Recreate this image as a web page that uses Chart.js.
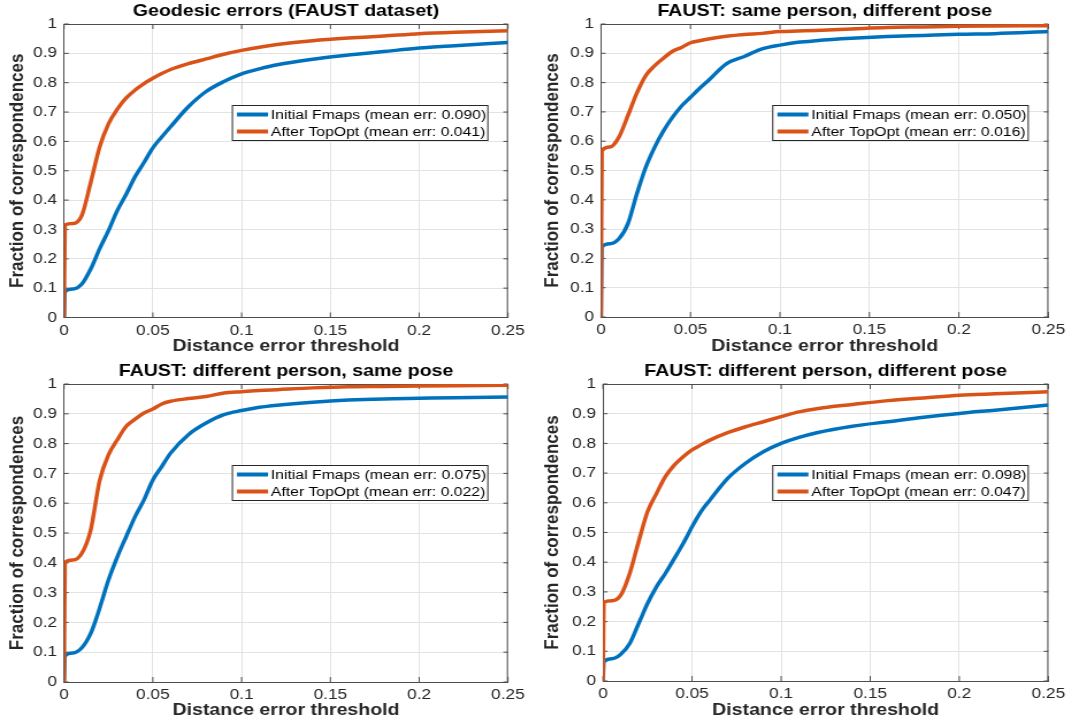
<!DOCTYPE html>
<html>
<head>
<meta charset="utf-8">
<script src="https://cdn.jsdelivr.net/npm/chart.js@4.4.0/dist/chart.umd.min.js"></script>
<style>
html, body { margin: 0; padding: 0; background: #fff; overflow: hidden; }
.panel { position: absolute; transform: scaleX(1.15); transform-origin: 0 0; }
</style>
</head>
<body>
<div class="panel" style="left:0px;top:0px"><canvas id="c0" width="465" height="360"></canvas></div>
<div class="panel" style="left:535px;top:0px"><canvas id="c1" width="465" height="360"></canvas></div>
<div class="panel" style="left:0px;top:360px"><canvas id="c2" width="465" height="362"></canvas></div>
<div class="panel" style="left:535px;top:360px"><canvas id="c3" width="465" height="362"></canvas></div>
<script>
// distance error thresholds (x), shared by all four panels
var thresholds = [0, 0.0005, 0.005, 0.01, 0.015, 0.02, 0.025, 0.03, 0.035, 0.04, 0.045, 0.05, 0.055,
	0.06, 0.07, 0.08, 0.09, 0.1, 0.11, 0.12, 0.14, 0.16, 0.18, 0.2, 0.22, 0.25];

// fraction of correspondences
var geoInitial = [0, 0.088, 0.097, 0.114, 0.165, 0.234, 0.296, 0.365, 0.42, 0.48, 0.528, 0.578, 0.615,
	0.65, 0.718, 0.77, 0.804, 0.83, 0.847, 0.861, 0.88, 0.894, 0.906, 0.918, 0.926, 0.937];
var geoTopOpt = [0, 0.315, 0.32, 0.348, 0.46, 0.58, 0.66, 0.71, 0.748, 0.775, 0.797, 0.815, 0.831,
	0.845, 0.865, 0.881, 0.897, 0.91, 0.921, 0.93, 0.943, 0.952, 0.959, 0.967, 0.972, 0.977];

var samePersonInitial = [0, 0.24, 0.25, 0.267, 0.318, 0.42, 0.511, 0.58, 0.636, 0.682, 0.72, 0.75, 0.78,
	0.807, 0.864, 0.889, 0.915, 0.928, 0.9375, 0.943, 0.951, 0.957, 0.961, 0.965, 0.967, 0.974];
var samePersonTopOpt = [0, 0.567, 0.58, 0.614, 0.687, 0.764, 0.824, 0.858, 0.884, 0.907, 0.92, 0.936, 0.943,
	0.949, 0.958, 0.964, 0.968, 0.974, 0.976, 0.978, 0.983, 0.988, 0.99, 0.992, 0.993, 0.994];

var samePoseInitial = [0, 0.088, 0.0975, 0.115, 0.163, 0.247, 0.342, 0.42, 0.488, 0.555, 0.611, 0.678, 0.723,
	0.768, 0.83, 0.869, 0.897, 0.911, 0.922, 0.929, 0.939, 0.946, 0.95, 0.952, 0.954, 0.956];
var samePoseTopOpt = [0, 0.40, 0.409, 0.432, 0.51, 0.675, 0.762, 0.813, 0.858, 0.882, 0.9025, 0.916, 0.933,
	0.942, 0.951, 0.958, 0.97, 0.974, 0.978, 0.981, 0.987, 0.991, 0.992, 0.993, 0.994, 0.9955];

var diffBothInitial = [0, 0.065, 0.075, 0.09, 0.126, 0.193, 0.261, 0.317, 0.362, 0.412, 0.463, 0.519, 0.57,
	0.609, 0.682, 0.733, 0.772, 0.8, 0.82, 0.836, 0.858, 0.873, 0.888, 0.901, 0.912, 0.929];
var diffBothTopOpt = [0, 0.265, 0.27, 0.289, 0.362, 0.469, 0.57, 0.631, 0.688, 0.727, 0.755, 0.778, 0.795,
	0.811, 0.836, 0.856, 0.873, 0.89, 0.906, 0.917, 0.931, 0.944, 0.953, 0.962, 0.967, 0.974];

var titles = ['Geodesic errors (FAUST dataset)', 'FAUST: same person, different pose',
	'FAUST: different person, same pose', 'FAUST: different person, different pose'];
var initialLabels = ['Initial Fmaps (mean err: 0.090)', 'Initial Fmaps (mean err: 0.050)',
	'Initial Fmaps (mean err: 0.075)', 'Initial Fmaps (mean err: 0.098)'];
var topOptLabels = ['After TopOpt (mean err: 0.041)', 'After TopOpt (mean err: 0.016)',
	'After TopOpt (mean err: 0.022)', 'After TopOpt (mean err: 0.047)'];
var initialSeries = [geoInitial, samePersonInitial, samePoseInitial, diffBothInitial];
var topOptSeries = [geoTopOpt, samePersonTopOpt, samePoseTopOpt, diffBothTopOpt];

var xTicks = [0, 0.05, 0.1, 0.15, 0.2, 0.25];
var yTicks = [0, 0.1, 0.2, 0.3, 0.4, 0.5, 0.6, 0.7, 0.8, 0.9, 1];

var BLUE = '#0072BD', ORANGE = '#D95319', AXIS = '#4d4d4d';
var FONT = '"Liberation Sans", Arial, Helvetica, sans-serif';
Chart.defaults.font.family = FONT;
Chart.defaults.color = '#262626';

// per panel: y axis width, right padding, x axis height, title padding below x label
var panelBox = [
	{ yW: 55.7, padR: 23.3, xH: 42.5, xtPad: 3.5 },
	{ yW: 57.4, padR: 18, xH: 43, xtPad: 3.5 },
	{ yW: 55.7, padR: 23.3, xH: 40, xtPad: 1 },
	{ yW: 59.1, padR: 17.2, xH: 41, xtPad: 1 }
];

function fmt(v) { return String(+(+v).toFixed(3)); }

// MATLAB-like box: top/right edges and inward tick marks on all sides
var boxPlugin = {
	id: 'matlabBox',
	beforeDatasetsDraw: function (chart) {
		var a = chart.chartArea, ctx = chart.ctx;
		var xs = chart.scales.x, ys = chart.scales.y;
		ctx.save();
		ctx.strokeStyle = AXIS;
		ctx.lineWidth = 1;
		ctx.beginPath();
		ctx.moveTo(a.left, a.top + 0.5); ctx.lineTo(a.right, a.top + 0.5);
		ctx.moveTo(a.right - 0.5, a.top); ctx.lineTo(a.right - 0.5, a.bottom);
		xTicks.forEach(function (t) {
			var px = xs.getPixelForValue(t);
			ctx.moveTo(px, a.bottom); ctx.lineTo(px, a.bottom - 5);
			ctx.moveTo(px, a.top); ctx.lineTo(px, a.top + 5);
		});
		yTicks.forEach(function (t) {
			var py = ys.getPixelForValue(t);
			ctx.moveTo(a.left, py); ctx.lineTo(a.left + 4, py);
			ctx.moveTo(a.right, py); ctx.lineTo(a.right - 4, py);
		});
		ctx.stroke();
		ctx.restore();
	}
};

// legend box inside the axes, near the upper right
var legendPlugin = {
	id: 'boxLegend',
	afterDatasetsDraw: function (chart, args, opts) {
		var a = chart.chartArea, ctx = chart.ctx;
		ctx.save();
		ctx.font = '13.7px ' + FONT;
		var w = 0;
		opts.items.forEach(function (it) { w = Math.max(w, ctx.measureText(it.text).width); });
		var boxW = 4.5 + 27 + 2.5 + w + 2;
		var boxH = 36;
		var x0 = a.right - 17 - boxW, y0 = a.top + 81;
		ctx.fillStyle = '#fff';
		ctx.fillRect(x0, y0, boxW, boxH);
		ctx.strokeStyle = '#262626';
		ctx.lineWidth = 1;
		ctx.strokeRect(x0 + 0.5, y0 + 0.5, boxW - 1, boxH - 1);
		opts.items.forEach(function (it, i) {
			var cy = y0 + 9.5 + i * 17;
			ctx.strokeStyle = it.color;
			ctx.lineWidth = 4;
			ctx.beginPath();
			ctx.moveTo(x0 + 4.5, cy); ctx.lineTo(x0 + 31.5, cy);
			ctx.stroke();
			ctx.fillStyle = '#000';
			ctx.textBaseline = 'middle';
			ctx.fillText(it.text, x0 + 34, cy + 0.5);
		});
		ctx.restore();
	}
};

function points(ys) {
	return ys.map(function (y, i) { return { x: thresholds[i], y: y }; });
}

for (var k = 0; k < 4; k++) {
	(function (k) {
		var p = panelBox[k];
		new Chart(document.getElementById('c' + k).getContext('2d'), {
			type: 'line',
			data: {
				datasets: [{
					label: initialLabels[k],
					data: points(initialSeries[k]),
					borderColor: BLUE,
					borderWidth: 3.5,
					pointRadius: 0,
					cubicInterpolationMode: 'monotone',
					order: 1
				}, {
					label: topOptLabels[k],
					data: points(topOptSeries[k]),
					borderColor: ORANGE,
					borderWidth: 3.5,
					pointRadius: 0,
					cubicInterpolationMode: 'monotone',
					order: 0
				}]
			},
			options: {
				responsive: false,
				animation: false,
				devicePixelRatio: 1,
				layout: { padding: { left: 0, right: p.padR, top: 0, bottom: 0 } },
				plugins: {
					legend: { display: false },
					tooltip: { enabled: false },
					title: {
						display: true,
						text: titles[k],
						fullSize: false,
						color: '#000',
						font: { size: 17, weight: 'bold' },
						padding: { top: 1, bottom: 2.6 }
					},
					boxLegend: {
						items: [
							{ text: initialLabels[k], color: BLUE },
							{ text: topOptLabels[k], color: ORANGE }
						]
					}
				},
				scales: {
					x: {
						type: 'linear',
						min: 0,
						max: 0.25,
						afterBuildTicks: function (s) { s.ticks = xTicks.map(function (v) { return { value: v }; }); },
						afterFit: function (s) { s.height = p.xH; },
						ticks: { padding: 4, font: { size: 15 }, color: '#262626', maxRotation: 0, callback: fmt },
						grid: { color: '#e3e3e3', drawTicks: false },
						border: { display: true, color: AXIS, width: 1 },
						title: {
							display: true,
							text: 'Distance error threshold',
							color: '#262626',
							font: { size: 17, weight: 'bold' },
							padding: { top: 0, bottom: p.xtPad }
						}
					},
					y: {
						type: 'linear',
						min: 0,
						max: 1,
						afterBuildTicks: function (s) { s.ticks = yTicks.map(function (v) { return { value: v }; }); },
						afterFit: function (s) { s.width = p.yW; },
						ticks: { padding: 6, font: { size: 15 }, color: '#262626', callback: fmt },
						grid: { color: '#e3e3e3', drawTicks: false },
						border: { display: true, color: AXIS, width: 1 },
						title: {
							display: true,
							text: 'Fraction of correspondences',
							color: '#262626',
							font: { size: 17, weight: 'bold' },
							padding: { top: 5.5, bottom: 0 }
						}
					}
				}
			},
			plugins: [boxPlugin, legendPlugin]
		});
	})(k);
}
</script>
</body>
</html>
